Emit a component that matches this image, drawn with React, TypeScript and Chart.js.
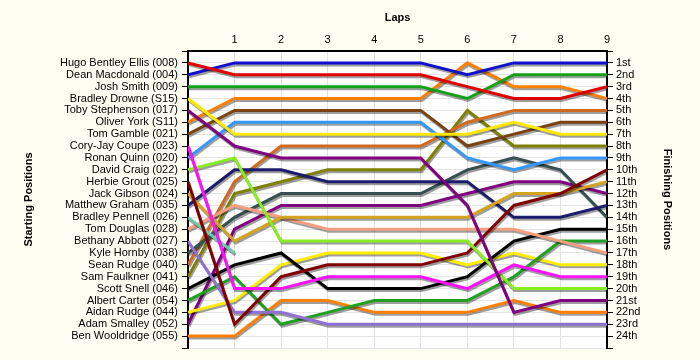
import React, { useEffect, useRef } from 'react';
import { Chart, registerables } from 'chart.js';

Chart.register(...registerables);

const laps = [0, 1, 2, 3, 4, 5, 6, 7, 8, 9];

const startingNames = [
  'Hugo Bentley Ellis (008)',
  'Dean Macdonald (004)',
  'Josh Smith (009)',
  'Bradley Drowne (S15)',
  'Toby Stephenson (017)',
  'Oliver York (S11)',
  'Tom Gamble (021)',
  'Cory-Jay Coupe (023)',
  'Ronan Quinn (020)',
  'David Craig (022)',
  'Herbie Grout (025)',
  'Jack Gibson (024)',
  'Matthew Graham (035)',
  'Bradley Pennell (026)',
  'Tom Douglas (028)',
  'Bethany Abbott (027)',
  'Kyle Hornby (038)',
  'Sean Rudge (040)',
  'Sam Faulkner (041)',
  'Scott Snell (046)',
  'Albert Carter (054)',
  'Aidan Rudge (044)',
  'Adam Smalley (052)',
  'Ben Wooldridge (055)',
];

const finishingLabels = [
  '1st', '2nd', '3rd', '4th', '5th', '6th', '7th', '8th', '9th', '10th', '11th', '12th',
  '13th', '14th', '15th', '16th', '17th', '18th', '19th', '20th', '21st', '22nd', '23rd', '24th',
];

// Position of each driver at the end of each lap (lap 0 = grid)
const hugoBentleyEllis = [1, 2, 2, 2, 2, 2, 3, 4, 4, 3];
const deanMacdonald = [2, 1, 1, 1, 1, 1, 2, 1, 1, 1];
const joshSmith = [3, 3, 3, 3, 3, 3, 4, 2, 2, 2];
const bradleyDrowne = [4, 7, 7, 7, 7, 7, 7, 6, 7, 7];
const tobyStephenson = [5, 8, 9, 9, 9, 9, 13, 22, 21, 21];
const oliverYork = [6, 4, 4, 4, 4, 4, 1, 3, 3, 4];
const tomGamble = [7, 5, 5, 5, 5, 5, 8, 7, 6, 6];
const coryJayCoupe = [8, 20, 20, 19, 19, 19, 20, 18, 19, 19];
const ronanQuinn = [9, 6, 6, 6, 6, 6, 9, 10, 9, 9];
const davidCraig = [10, 9, 16, 16, 16, 16, 16, 20, 20, 20];
const herbieGrout = [11, 23, 19, 18, 18, 18, 17, 13, 12, 10];
const jackGibson = [12, 16, 14, 14, 14, 14, 14, 12, 12, 11];
const matthewGraham = [13, 10, 10, 11, 11, 11, 11, 14, 14, 13];
const bradleyPennell = [14, 17];
const tomDouglas = [15, 13, 14, 15, 15, 15, 15, 15, 16, 17];
const bethanyAbbott = [16, 22, 22, 23, 23, 23, 23, 23, 23, 23];
const kyleHornby = [17, 14, 12, 12, 12, 12, 10, 9, 10, 14];
const seanRudge = [18, 11, 8, 8, 8, 8, 6, 5, 5, 5];
const samFaulkner = [19, 12, 11, 10, 10, 10, 5, 8, 8, 8];
const scottSnell = [20, 18, 17, 20, 20, 20, 19, 16, 15, 15];
const albertCarter = [21, 19, 23, 22, 21, 21, 21, 19, 16, 16];
const aidanRudge = [22, 21, 18, 17, 17, 17, 18, 17, 18, 18];
const adamSmalley = [23, 15, 13, 13, 13, 13, 12, 11, 11, 12];
const benWooldridge = [24, 24, 21, 21, 22, 22, 22, 21, 22, 22];

const driverPositions = [
  hugoBentleyEllis, deanMacdonald, joshSmith, bradleyDrowne, tobyStephenson, oliverYork,
  tomGamble, coryJayCoupe, ronanQuinn, davidCraig, herbieGrout, jackGibson,
  matthewGraham, bradleyPennell, tomDouglas, bethanyAbbott, kyleHornby, seanRudge,
  samFaulkner, scottSnell, albertCarter, aidanRudge, adamSmalley, benWooldridge,
];

const driverColors = [
  '#e00000', '#1010cc', '#16a016', '#ffe800', '#800080', '#ff8000',
  '#7a4210', '#ff10ff', '#3399ff', '#88ee22', '#800000', '#d4a420',
  '#1c1c6c', '#70c8a8', '#f4a080', '#9070d0', '#355050', '#d2691e',
  '#808000', '#000000', '#20a020', '#ffee00', '#800080', '#ff7f00',
];

const FONT = "'Liberation Sans', Arial, sans-serif";
const PAGE_BG = '#fdfdf2';

const bgPlugin = {
  id: 'bgPlugin',
  beforeDraw(chart: any) {
    const { ctx, chartArea, width, height } = chart;
    ctx.save();
    ctx.fillStyle = PAGE_BG;
    ctx.fillRect(0, 0, width, height);
    ctx.fillStyle = '#ffffff';
    ctx.fillRect(chartArea.left, chartArea.top, chartArea.right - chartArea.left, chartArea.bottom - chartArea.top);
    ctx.restore();
  },
};

const shadowPlugin = {
  id: 'shadowPlugin',
  beforeDatasetsDraw(chart: any) {
    const ctx = chart.ctx;
    ctx.save();
    ctx.shadowColor = 'rgba(0,0,0,0.38)';
    ctx.shadowOffsetX = 1;
    ctx.shadowOffsetY = 2;
    ctx.shadowBlur = 0;
  },
  afterDatasetsDraw(chart: any) {
    chart.ctx.restore();
  },
};

export default function App() {
  const canvasRef = useRef<HTMLCanvasElement | null>(null);

  useEffect(() => {
    const canvas = canvasRef.current;
    if (!canvas) return;

    const datasets = startingNames.map((name, i) => ({
      label: name,
      data: driverPositions[i].map((p, k) => ({ x: laps[k], y: p })),
      borderColor: driverColors[i],
      backgroundColor: driverColors[i],
      borderWidth: 3,
      pointRadius: 0,
      tension: 0,
      fill: false,
      yAxisID: 'y',
      xAxisID: 'x',
      borderJoinStyle: 'miter' as const,
    }));

    const zeroPad = (scale: any) => {
      scale.paddingTop = 0;
      scale.paddingBottom = 0;
      scale.paddingLeft = 0;
      scale.paddingRight = 0;
    };

    const chart = new Chart(canvas, {
      type: 'line',
      data: { datasets },
      plugins: [bgPlugin, shadowPlugin],
      options: {
        animation: false,
        responsive: false,
        devicePixelRatio: 1,
        layout: { padding: { left: 0, right: 0, top: 0, bottom: 12 } },
        plugins: {
          legend: { display: false },
          tooltip: { enabled: false },
        },
        scales: {
          x: {
            type: 'linear',
            position: 'top',
            min: 0,
            max: 9,
            ticks: {
              stepSize: 1,
              autoSkip: false,
              padding: 4,
              color: '#000',
              font: { family: FONT, size: 11 },
              callback: (v: any) => (v === 0 ? '' : String(v)),
            },
            grid: { color: '#e2e2e2', lineWidth: 1, drawTicks: false },
            border: { color: '#000', width: 2 },
            title: {
              display: true,
              text: 'Laps',
              color: '#000',
              font: { family: FONT, size: 11, weight: 'bold' },
              padding: { top: 11, bottom: 0 },
            },
            afterFit: (scale: any) => {
              scale.height = 51;
              zeroPad(scale);
            },
          },
          y: {
            type: 'linear',
            position: 'left',
            reverse: true,
            min: 0,
            max: 25,
            ticks: {
              stepSize: 1,
              autoSkip: false,
              padding: 4,
              color: '#000',
              font: { family: FONT, size: 11 },
              callback: (v: any) => (v >= 1 && v <= 24 ? startingNames[v - 1] : ''),
            },
            grid: { color: '#e6e6e6', lineWidth: 1, tickColor: '#000', tickLength: 6 },
            border: { color: '#000', width: 2 },
            title: {
              display: true,
              text: 'Starting Positions',
              color: '#000',
              font: { family: FONT, size: 11, weight: 'bold' },
              padding: { top: 22, bottom: 0 },
            },
            afterFit: (scale: any) => {
              scale.width = 188;
              zeroPad(scale);
            },
          },
          y2: {
            type: 'linear',
            position: 'right',
            reverse: true,
            min: 0,
            max: 25,
            ticks: {
              stepSize: 1,
              autoSkip: false,
              padding: 3,
              color: '#000',
              font: { family: FONT, size: 11 },
              callback: (v: any) => (v >= 1 && v <= 24 ? finishingLabels[v - 1] : ''),
            },
            grid: { drawOnChartArea: false, color: '#000', tickColor: '#000', tickLength: 6 },
            border: { color: '#000', width: 2 },
            title: {
              display: true,
              text: 'Finishing Positions',
              color: '#000',
              font: { family: FONT, size: 11, weight: 'bold' },
              padding: { top: 26, bottom: 0 },
            },
            afterFit: (scale: any) => {
              scale.width = 93;
              zeroPad(scale);
            },
          },
        },
      },
    } as any);

    return () => chart.destroy();
  }, []);

  return (
    <div style={{ position: 'fixed', left: 0, top: 0, width: 700, height: 360, background: PAGE_BG }}>
      <canvas ref={canvasRef} width={700} height={360} style={{ display: 'block', width: 700, height: 360 }} />
    </div>
  );
}
